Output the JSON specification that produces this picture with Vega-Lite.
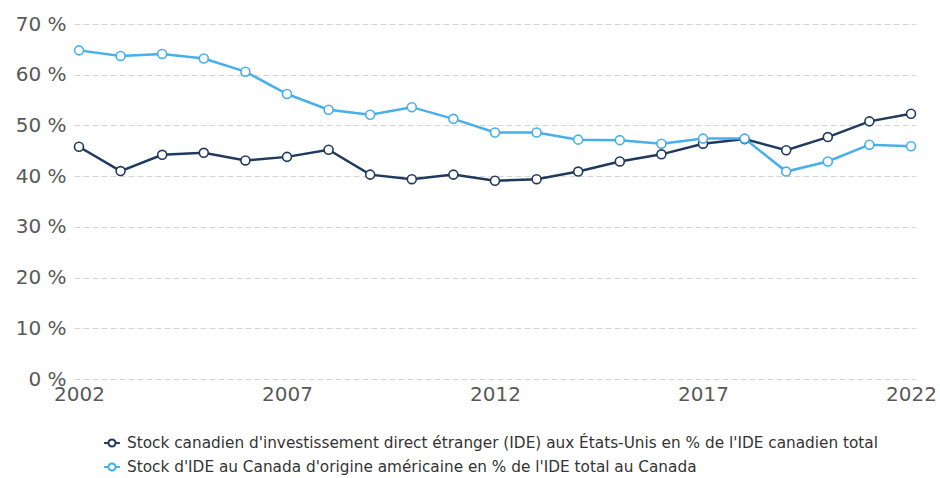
{
  "$schema": "https://vega.github.io/schema/vega-lite/v6.json",
  "width": 842,
  "height": 355,
  "autosize": {"type": "none"},
  "padding": {"left": 74, "top": 24, "right": 24, "bottom": 99},
  "background": "white",
  "config": {
    "view": {"stroke": null},
    "font": "DejaVu Sans",
    "axis": {"labelFont": "DejaVu Sans", "labelColor": "#595959", "labelFontSize": 20}
  },
  "data": {
    "values": [
      {"year": 2002, "series": "A", "value": 45.8},
      {"year": 2003, "series": "A", "value": 41.0},
      {"year": 2004, "series": "A", "value": 44.2},
      {"year": 2005, "series": "A", "value": 44.6},
      {"year": 2006, "series": "A", "value": 43.1},
      {"year": 2007, "series": "A", "value": 43.8},
      {"year": 2008, "series": "A", "value": 45.2},
      {"year": 2009, "series": "A", "value": 40.3},
      {"year": 2010, "series": "A", "value": 39.4},
      {"year": 2011, "series": "A", "value": 40.3},
      {"year": 2012, "series": "A", "value": 39.1},
      {"year": 2013, "series": "A", "value": 39.4},
      {"year": 2014, "series": "A", "value": 40.9},
      {"year": 2015, "series": "A", "value": 42.9},
      {"year": 2016, "series": "A", "value": 44.3},
      {"year": 2017, "series": "A", "value": 46.4},
      {"year": 2018, "series": "A", "value": 47.3},
      {"year": 2019, "series": "A", "value": 45.1},
      {"year": 2020, "series": "A", "value": 47.7},
      {"year": 2021, "series": "A", "value": 50.8},
      {"year": 2022, "series": "A", "value": 52.3},
      {"year": 2002, "series": "B", "value": 64.8},
      {"year": 2003, "series": "B", "value": 63.7},
      {"year": 2004, "series": "B", "value": 64.1},
      {"year": 2005, "series": "B", "value": 63.2},
      {"year": 2006, "series": "B", "value": 60.6},
      {"year": 2007, "series": "B", "value": 56.2},
      {"year": 2008, "series": "B", "value": 53.1},
      {"year": 2009, "series": "B", "value": 52.1},
      {"year": 2010, "series": "B", "value": 53.6},
      {"year": 2011, "series": "B", "value": 51.3},
      {"year": 2012, "series": "B", "value": 48.6},
      {"year": 2013, "series": "B", "value": 48.6},
      {"year": 2014, "series": "B", "value": 47.2},
      {"year": 2015, "series": "B", "value": 47.1},
      {"year": 2016, "series": "B", "value": 46.4},
      {"year": 2017, "series": "B", "value": 47.4},
      {"year": 2018, "series": "B", "value": 47.4},
      {"year": 2019, "series": "B", "value": 40.9},
      {"year": 2020, "series": "B", "value": 42.9},
      {"year": 2021, "series": "B", "value": 46.2},
      {"year": 2022, "series": "B", "value": 45.9}
    ]
  },
  "encoding": {
    "x": {
      "field": "year", "type": "quantitative",
      "scale": {"domain": [2001.88, 2022.12], "nice": false, "zero": false},
      "axis": {"title": null, "values": [2002, 2007, 2012, 2017, 2022], "format": "d", "ticks": false, "domain": false, "grid": false, "labelPadding": 5, "labelFlush": false}
    },
    "y": {
      "field": "value", "type": "quantitative",
      "scale": {"domain": [0, 70], "nice": false},
      "axis": {"title": null, "values": [0, 10, 20, 30, 40, 50, 60, 70], "labelExpr": "datum.value + ' %'", "ticks": false, "domain": false, "grid": true, "gridColor": "#d6d6d6", "gridDash": [6, 3], "gridWidth": 1, "labelPadding": 8}
    },
    "color": {
      "field": "series", "type": "nominal",
      "scale": {"domain": ["A", "B"], "range": ["#1f3a5e", "#47afeb"]},
      "legend": {
        "title": null, "orient": "none", "legendX": 29, "legendY": 410,
        "direction": "vertical",
        "labelExpr": "datum.value == 'A' ? \"Stock canadien d'investissement direct étranger (IDE) aux États-Unis en % de l'IDE canadien total\" : \"Stock d'IDE au Canada d'origine américaine en % de l'IDE total au Canada\"",
        "labelFontSize": 15.3, "labelColor": "#333333", "labelFont": "DejaVu Sans", "labelLimit": 900,
        "symbolType": "M-1,0L-0.45,0M0.45,0L1,0M0.45,0A0.45,0.45 0 1,1 -0.45,0A0.45,0.45 0 1,1 0.45,0",
        "symbolSize": 250, "symbolStrokeWidth": 2, "rowPadding": 6, "labelOffset": 6,
        "symbolFillColor": "white",
        "encode": {"symbols": {"update": {"fill": {"value": "white"}, "opacity": {"value": 1}}}}
      }
    }
  },
  "layer": [
    {"mark": {"type": "line", "strokeWidth": 2.5}},
    {"mark": {"type": "point", "shape": "circle", "filled": false, "fill": "white", "size": 80, "strokeWidth": 1.6, "opacity": 1}}
  ]
}
